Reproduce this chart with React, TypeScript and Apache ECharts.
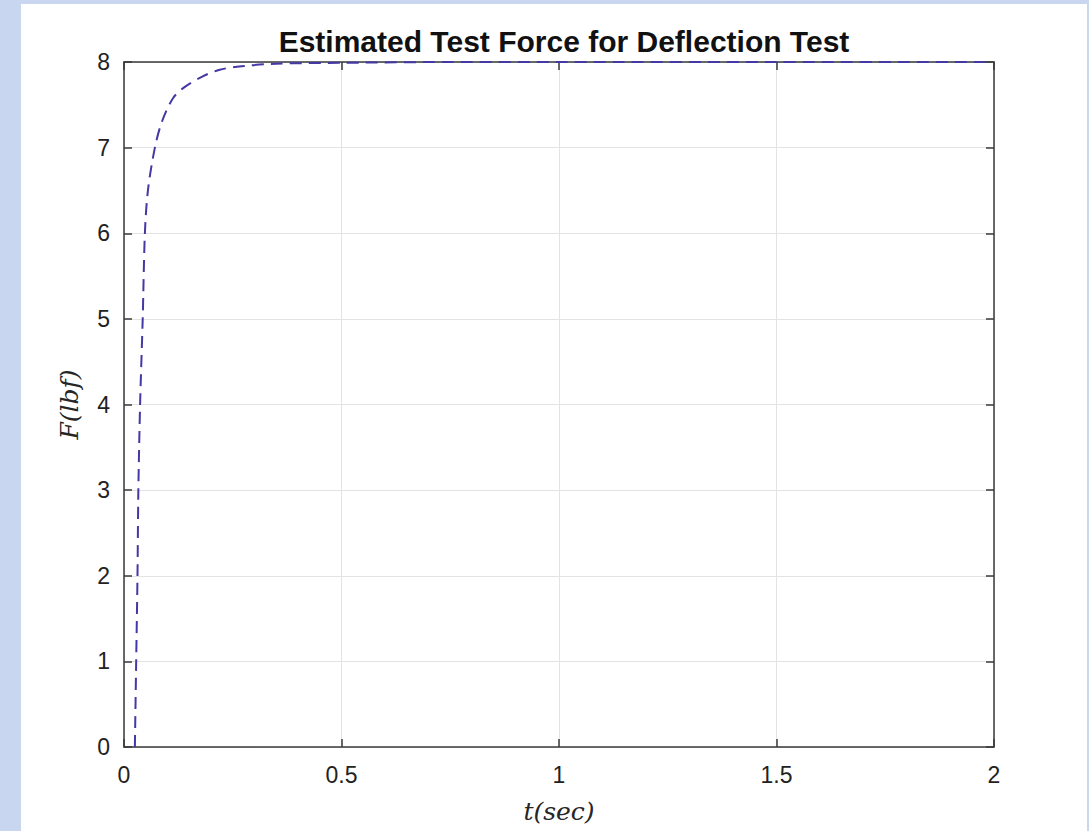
import React, { useEffect, useRef } from "react";
import * as echarts from "echarts";

const titleText = "Estimated Test Force for Deflection Test";
const xName = "t(sec)";
const yName = "F(lbf)";
const timeValues = [0.025, 0.028, 0.031, 0.033, 0.037, 0.043, 0.048, 0.055, 0.071, 0.087, 0.113, 0.14, 0.18, 0.22, 0.27, 0.35, 0.5, 0.75, 1.0, 1.5, 2.0];
const forceValues = [0, 1, 2, 3, 4, 5, 6, 6.5, 7, 7.3, 7.58, 7.71, 7.83, 7.91, 7.95, 7.98, 7.99, 8, 8, 8, 8];
const xTicks = [0, 0.5, 1, 1.5, 2];
const yTicks = [0, 1, 2, 3, 4, 5, 6, 7, 8];

export default function App() {
  const ref = useRef<HTMLDivElement>(null);
  useEffect(() => {
    if (!ref.current) return;
    const chart = echarts.init(ref.current, null, { renderer: "svg" });
    const data = timeValues.map((t, i) => [t, forceValues[i]]);
    const axisLine = { show: true, onZero: false, lineStyle: { color: "#3a3a3a", width: 1.5 } };
    const axisTick = { show: true, inside: true, length: 8, lineStyle: { color: "#3a3a3a", width: 1.5 } };
    const labelStyle = { color: "#222222", fontSize: 23, fontFamily: "Liberation Sans, Arial, sans-serif" };
    const nameStyle = { fontFamily: "DejaVu Serif, Liberation Serif, serif", fontStyle: "italic", fontSize: 25, color: "#262626" };
    chart.setOption({
      animation: false,
      backgroundColor: "#c8d7ef",
      graphic: [
        {
          type: "rect",
          z: -100,
          silent: true,
          shape: { x: 21, y: 4, width: 1066, height: 827 },
          style: { fill: "#ffffff" },
        },
      ],
      title: {
        text: titleText,
        left: 559,
        top: 21,
        textAlign: "center",
        textStyle: { fontSize: 30, fontWeight: "bold", color: "#111", fontFamily: "Liberation Sans, Arial, sans-serif" },
      },
      grid: { left: 124, top: 62, right: 95, bottom: 84, containLabel: false },
      xAxis: [
        {
          type: "value",
          min: xTicks[0],
          max: xTicks[xTicks.length - 1],
          interval: 0.5,
          position: "bottom",
          axisLine,
          axisTick,
          axisLabel: { ...labelStyle, margin: 16, formatter: (v: number) => String(v) },
          splitLine: { show: true, lineStyle: { color: "#e3e3e3", width: 1 } },
          name: xName,
          nameLocation: "middle",
          nameGap: 52,
          nameTextStyle: nameStyle,
        },
        {
          type: "value",
          min: xTicks[0],
          max: xTicks[xTicks.length - 1],
          interval: 0.5,
          position: "top",
          axisLine,
          axisTick,
          axisLabel: { show: false },
          splitLine: { show: false },
        },
      ],
      yAxis: [
        {
          type: "value",
          min: yTicks[0],
          max: yTicks[yTicks.length - 1],
          interval: 1,
          position: "left",
          axisLine,
          axisTick,
          axisLabel: { ...labelStyle, margin: 14 },
          splitLine: { show: true, lineStyle: { color: "#e3e3e3", width: 1 } },
          name: yName,
          nameLocation: "middle",
          nameGap: 42,
          nameTextStyle: nameStyle,
        },
        {
          type: "value",
          min: yTicks[0],
          max: yTicks[yTicks.length - 1],
          interval: 1,
          position: "right",
          axisLine,
          axisTick,
          axisLabel: { show: false },
          splitLine: { show: false },
        },
      ],
      series: [
        {
          type: "line",
          xAxisIndex: 0,
          yAxisIndex: 0,
          data,
          smooth: 0.3,
          showSymbol: false,
          clip: false,
          lineStyle: { color: "#4438a4", width: 2, type: [12, 7] },
        },
      ],
    });
    return () => chart.dispose();
  }, []);
  return <div ref={ref} style={{ position: "absolute", left: 0, top: 0, width: 1089, height: 831 }} />;
}
